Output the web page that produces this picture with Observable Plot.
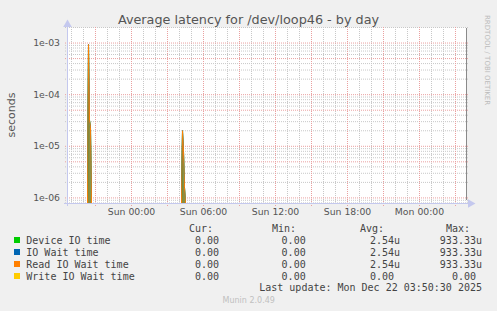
<!DOCTYPE html>
<html><head><meta charset="utf-8">
<script src="https://cdn.jsdelivr.net/npm/d3@7"></script>
<script src="https://cdn.jsdelivr.net/npm/@observablehq/plot@0.6"></script>
<style>
html,body{margin:0;padding:0;background:#f0f0f0;}
#wrap{position:relative;width:497px;height:311px;background:#f0f0f0;overflow:hidden;}
#chart{position:absolute;left:0;top:0;}
#over{position:absolute;left:0;top:0;pointer-events:none;}
</style></head>
<body><div id="wrap"><div id="chart"></div><svg id="over" width="497" height="311"></svg></div>
<script>
// ---- data ----
const title = "Average latency for /dev/loop46 - by day";
const yLabel = "seconds";
const sideText = "RRDTOOL / TOBI OETIKER";
const times = ["2025-12-20T18:40","2025-12-20T20:20","2025-12-20T20:25","2025-12-20T20:30","2025-12-20T20:35","2025-12-20T20:40","2025-12-21T04:10","2025-12-21T04:15","2025-12-21T04:20","2025-12-21T04:25","2025-12-21T04:30","2025-12-22T03:55"];
const deviceIO  = [0,0,933.33e-6,32e-6,23e-6,0,0,20e-6,8e-6,1.6e-6,0,0];
const ioWait    = [0,0,933.33e-6,32e-6,23e-6,0,0,20e-6,8e-6,1.6e-6,0,0];
const readWait  = [0,0,933.33e-6,32e-6,23e-6,0,0,20e-6,8e-6,1.6e-6,0,0];
const writeWait = [0,0,0,0,0,0,0,0,0,0,0,0];
const yTickValues = [1e-3,5e-4,1e-4,5e-5,1e-5,5e-6,1e-6];
const yTickLabels = ["1e-03","5e-04","1e-04","5e-05","1e-05","5e-06","1e-06"];
const xTickTimes = ["2025-12-21T00:00","2025-12-21T06:00","2025-12-21T12:00","2025-12-21T18:00","2025-12-22T00:00"];
const xTickLabels = ["Sun 00:00","Sun 06:00","Sun 12:00","Sun 18:00","Mon 00:00"];
const seriesNames = ["Device IO time","IO Wait time","Read IO Wait time","Write IO Wait time"];
const seriesColors = ["#00cc00","#0066b3","#ff8000","#ffcc00"];
const curValues = ["0.00","0.00","0.00","0.00"];
const minValues = ["0.00","0.00","0.00","0.00"];
const avgValues = ["2.54u","2.54u","2.54u","0.00"];
const maxValues = ["933.33u","933.33u","933.33u","0.00"];
const lastUpdate = "Last update: Mon Dec 22 03:50:30 2025";
const footer = "Munin 2.0.49";

// ---- build ----
const utc = s => new Date(s + "Z");
const yDomain = [7.8e-7, 2e-3];
const floorV = v => (v > yDomain[0] ? v : yDomain[0]);
const series = [deviceIO, ioWait, readWait, writeWait];
const rows = series.map((vals, k) => times.map((t, i) => ({t: utc(t), v: floorV(vals[i]), k})));
const xDomain = [utc(times[0]), utc(times[times.length - 1])];
const xTicks = xTickTimes.map(utc);

const minorY = [], majorY = [];
for (let e = -7; e <= -3; e++) {
  for (let m = 1; m <= 9; m++) {
    const v = m * Math.pow(10, e);
    if (v < yDomain[0] || v > yDomain[1]) continue;
    (m === 1 || m === 5 ? majorY : minorY).push(v);
  }
}
const hours = d3.utcHour.range(d3.utcHour.ceil(xDomain[0]), xDomain[1]);
const majorX = hours.filter(h => h.getUTCHours() % 3 === 0);
const minorX = hours.filter(h => h.getUTCHours() % 3 !== 0);

const axisCol = "#c4c8ee";
const plot = Plot.plot({
  width: 497, height: 222,
  marginLeft: 67, marginRight: 31, marginTop: 27, marginBottom: 19,
  style: {background: "#f0f0f0", fontFamily: "DejaVu Sans", fontSize: "9.3px", color: "#555"},
  x: {type: "utc", domain: xDomain},
  y: {type: "log", domain: yDomain},
  marks: [
    Plot.frame({fill: "white", stroke: null}),
    Plot.ruleY(minorY, {y: d => d, stroke: "#c8c8c8", strokeDasharray: "1,1", insetLeft: -2, insetRight: -2}),
    Plot.ruleX(minorX, {x: d => d, stroke: "#c8c8c8", strokeDasharray: "1,1", insetBottom: -2}),
    Plot.ruleY(majorY, {y: d => d, stroke: "#eaa0a0", strokeDasharray: "1,1", insetLeft: -2, insetRight: -2}),
    Plot.ruleX(majorX, {x: d => d, stroke: "#eaa0a0", strokeDasharray: "1,1", insetBottom: -3}),
    Plot.ruleX([xDomain[0]], {x: d => d, stroke: axisCol, insetTop: -1, insetBottom: -3}),
    Plot.ruleY([yDomain[0]], {y: d => d, stroke: axisCol, insetLeft: -3, insetRight: -2}),
    Plot.dot([xDomain[0]], {x: d => d, y: () => yDomain[1], symbol: "triangle", r: 3.2, fill: axisCol, stroke: null, dy: -3}),
    Plot.dot([xDomain[1]], {x: d => d, y: () => yDomain[0], symbol: "triangle", rotate: 90, r: 3.2, fill: axisCol, stroke: null, dx: 4}),
    Plot.areaY(rows[0], {x: "t", y1: () => yDomain[0], y2: "v", fill: "#8e8e3e", clip: true}),
    Plot.lineY(rows[0], {x: "t", y: "v", stroke: seriesColors[0], strokeWidth: 1, clip: true}),
    Plot.lineY(rows[1], {x: "t", y: "v", stroke: seriesColors[1], strokeWidth: 1, clip: true}),
    Plot.lineY(rows[2], {x: "t", y: "v", stroke: seriesColors[2], strokeWidth: 1, clip: true}),
    Plot.lineY(rows[3], {x: "t", y: "v", stroke: seriesColors[3], strokeWidth: 1, clip: true}),
    Plot.ruleX([xDomain[1]], {x: d => d, stroke: "#8a8a8a", insetTop: 1, insetBottom: 3}),
    Plot.axisY({ticks: yTickValues, tickFormat: d => yTickLabels[yTickValues.indexOf(d)], tickSize: 0, tickPadding: 7.5, label: null}),
    Plot.axisX({ticks: xTicks, tickFormat: d => xTickLabels[xTicks.findIndex(t => +t === +d)], tickSize: 0, tickPadding: 5, label: null})
  ]
});
document.getElementById("chart").appendChild(plot);

// ---- overlay texts & legend ----
const svg = d3.select("#over");
svg.append("text").attr("x", 248.5).attr("y", 24).attr("text-anchor", "middle")
  .attr("font-family", "DejaVu Sans").attr("font-size", 12.8).attr("fill", "#555").text(title);
svg.append("text").attr("transform", "translate(15,115) rotate(-90)").attr("text-anchor", "middle")
  .attr("font-family", "DejaVu Sans").attr("font-size", 11).attr("fill", "#555").text(yLabel);
svg.append("text").attr("transform", "translate(485,15) rotate(90)").attr("text-anchor", "start")
  .attr("font-family", "DejaVu Sans").attr("font-size", 7).attr("fill", "#bbb").text(sideText);

const mono = {"font-family": "DejaVu Sans Mono", "font-size": 10, "fill": "#444"};
function t(x, y, s, anchor, extra) {
  const el = svg.append("text").attr("x", x).attr("y", y).attr("text-anchor", anchor || "start").text(s);
  Object.entries(Object.assign({}, mono, extra || {})).forEach(([k, v]) => el.attr(k, v));
  return el;
}
const headY = 231.7;
t(213, headY, "Cur:", "end");
t(296, headY, "Min:", "end");
t(384, headY, "Avg:", "end");
t(470, headY, "Max:", "end");
const unitW = 6;
const rEnd = (s, right) => /[a-zA-Z]$/.test(s) ? right : right - unitW;
seriesNames.forEach((name, i) => {
  const y = 243.7 + i * 12;
  svg.append("rect").attr("x", 14).attr("y", y - 6.7).attr("width", 6).attr("height", 6).attr("fill", seriesColors[i]);
  t(26.3, y, name);
  t(rEnd(curValues[i], 225), y, curValues[i], "end");
  t(rEnd(minValues[i], 311.7), y, minValues[i], "end");
  t(rEnd(avgValues[i], 400), y, avgValues[i], "end");
  t(rEnd(maxValues[i], 482), y, maxValues[i], "end");
});
t(482, 290.8, lastUpdate, "end");
svg.append("text").attr("x", 248.7).attr("y", 302.5).attr("text-anchor", "middle")
  .attr("font-family", "DejaVu Sans").attr("font-size", 8).attr("fill", "#c0c0c0").text(footer);
</script>
</body></html>
